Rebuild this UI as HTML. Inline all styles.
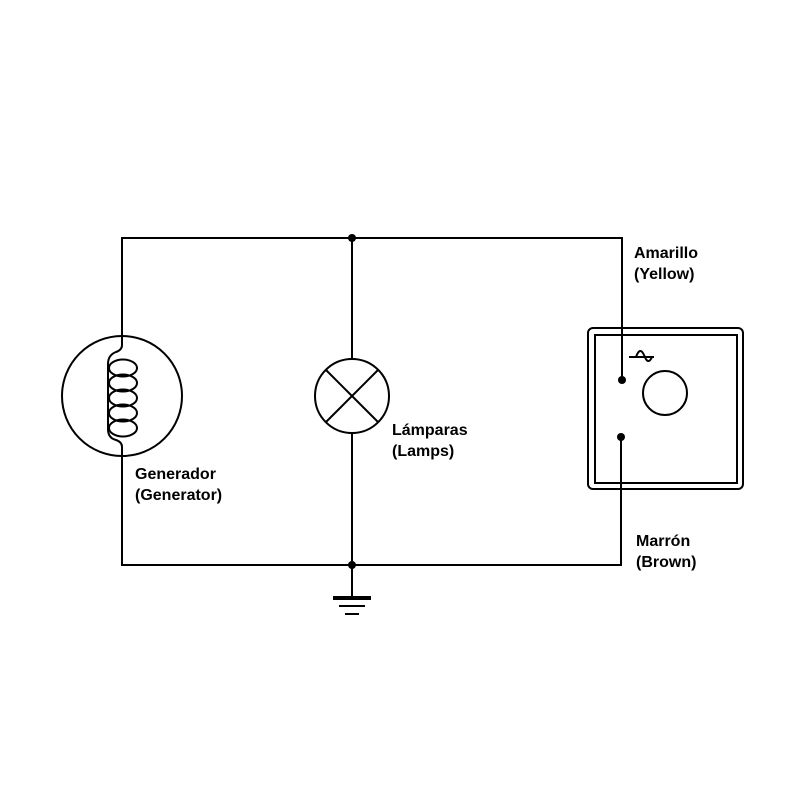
<!DOCTYPE html>
<html><head><style>body{margin:0;background:#fff}</style></head><body>
<svg width="800" height="800" viewBox="0 0 800 800" xmlns="http://www.w3.org/2000/svg" font-family="Liberation Sans, sans-serif" font-weight="bold" font-size="16">
<g fill="none" stroke="#000" stroke-width="2">
<path d="M122 345 V238 H622 V380"/>
<path d="M122 447 V565 H621 V437"/>
<path d="M352 238 V359 M352 433 V597"/>
<circle cx="122" cy="396" r="60"/>
<path d="M122 345 Q122 350 116 352 Q108 355 108 364 V429 Q108 438 116 440 Q122 442 122 447"/>
<ellipse cx="123" cy="368" rx="14" ry="8.5"/>
<ellipse cx="123" cy="383" rx="14" ry="8.5"/>
<ellipse cx="123" cy="398" rx="14" ry="8.5"/>
<ellipse cx="123" cy="413" rx="14" ry="8.5"/>
<ellipse cx="123" cy="428" rx="14" ry="8.5"/>
<circle cx="352" cy="396" r="37"/>
<path d="M326 370 L378 422 M378 370 L326 422"/>
<rect x="588" y="328" width="155" height="161" rx="5"/>
<rect x="595" y="335" width="142" height="148"/>
<circle cx="665" cy="393" r="22"/>
<path d="M629 357 H654 M636 357 Q640 346 644 355 Q648 366 652 357"/>
</g>
<rect x="333" y="596" width="38" height="4" fill="#000"/>
<rect x="339" y="605" width="26" height="2" fill="#000"/>
<rect x="345" y="613" width="14" height="2" fill="#000"/>
<circle cx="352" cy="238" r="4"/>
<circle cx="352" cy="565" r="4"/>
<circle cx="622" cy="380" r="4"/>
<circle cx="621" cy="437" r="4"/>
<text x="135" y="479">Generador</text>
<text x="135" y="500">(Generator)</text>
<text x="392" y="435">Lámparas</text>
<text x="392" y="456">(Lamps)</text>
<text x="634" y="258">Amarillo</text>
<text x="634" y="279">(Yellow)</text>
<text x="636" y="546">Marrón</text>
<text x="636" y="567">(Brown)</text>
</svg>
</body></html>
